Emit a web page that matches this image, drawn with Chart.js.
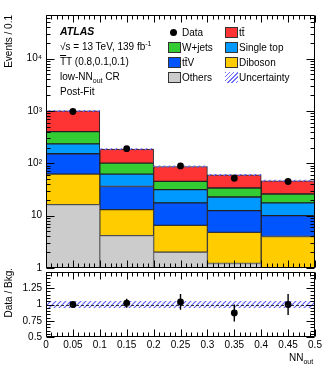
<!DOCTYPE html>
<html>
<head>
<meta charset="utf-8">
<script src="https://cdn.jsdelivr.net/npm/chart.js@4.4.0/dist/chart.umd.min.js"></script>
<style>
  body { margin: 0; background: #fff; font-family: "Liberation Sans", Arial, sans-serif; }
  #wrap { position: relative; width: 332px; height: 375px; overflow: hidden; }
  #topChart { position: absolute; left: 0; top: 0; }
  #ratioChart { position: absolute; left: 0; top: 262px; }
  .t { position: absolute; font-size: 10px; line-height: 12px; height: 12px; white-space: nowrap; color: #000; }
  .t sub, .t sup { font-size: 7px; line-height: 0; }
  .ytitle { position: absolute; font-size: 10px; line-height: 12px; white-space: nowrap;
            writing-mode: vertical-rl; transform: rotate(180deg); }
  .sw { position: absolute; width: 11px; height: 9px; border: 1px solid #333; }
  .dot { position: absolute; width: 7px; height: 7px; border-radius: 50%; background: #000; }
</style>
</head>
<body>
<div id="wrap">
  <canvas id="topChart" width="332" height="278"></canvas>
  <canvas id="ratioChart" width="332" height="113"></canvas>

  <div class="ytitle" style="left:3px; top:15px;">Events / 0.1</div>
  <div class="ytitle" style="left:3px; top:268px;">Data / Bkg.</div>
  <div class="t" style="left:289px; top:352px;">NN<sub>out</sub></div>

  <div class="t" style="left:60px; top:25px; font-weight:bold; font-style:italic; font-size:10.5px;">ATLAS</div>
  <div class="t" style="left:60px; top:41px;">√s = 13 TeV, 139 fb<sup>-1</sup></div>
  <div class="t" style="left:60px; top:56px;"><span style="text-decoration:overline">T</span>T (0.8,0.1,0.1)</div>
  <div class="t" style="left:60px; top:71px;">low-NN<sub>out</sub> CR</div>
  <div class="t" style="left:60px; top:86px;">Post-Fit</div>

  <div class="dot" style="left:170px; top:29px;"></div>
  <div class="t" style="left:182px; top:27px;">Data</div>
  <div class="sw" style="left:168px; top:42px; background:#33cc33;"></div>
  <div class="t" style="left:182px; top:42px;">W+jets</div>
  <div class="sw" style="left:168px; top:57px; background:#0055ff;"></div>
  <div class="t" style="left:182px; top:57px;">tt̄V</div>
  <div class="sw" style="left:168px; top:72px; background:#cccccc;"></div>
  <div class="t" style="left:182px; top:72px;">Others</div>

  <div class="sw" style="left:225px; top:27px; background:#fe3333;"></div>
  <div class="t" style="left:239px; top:27px;">tt̄</div>
  <div class="sw" style="left:225px; top:42px; background:#0099ff;"></div>
  <div class="t" style="left:239px; top:42px;">Single top</div>
  <div class="sw" style="left:225px; top:57px; background:#ffcc00;"></div>
  <div class="t" style="left:239px; top:57px;">Diboson</div>
  <div class="sw" style="left:225px; top:72px; border:none; width:13px; height:11px;
       background:repeating-linear-gradient(135deg, #7070ff 0 1px, transparent 1px 3px);"></div>
  <div class="t" style="left:239px; top:72px;">Uncertainty</div>
</div>

<script>
// bin centres of NN_out
const binCentres = [0.05, 0.15, 0.25, 0.35, 0.45];

// post-fit yields per process
const others    = [16.2, 4.16, 2.0, 1.22, 1.0];
const diboson   = [45.8, 8.84, 4.5, 3.58, 3.0];
const ttV       = [90, 23, 11, 7.7, 6.0];
const singleTop = [83, 26, 13.8, 10.2, 7.5];
const wjets     = [169, 39, 13.7, 11, 8.4];
const ttbar     = [596, 85, 42, 26.3, 20.5];
const bkgRelUnc = [0.03, 0.03, 0.03, 0.03, 0.03];

const dataYield = [975, 190, 89, 52, 45];
const dataErr   = [31, 14, 9.4, 7.2, 6.7];

// lower panel
const ratioVals = [1.0, 1.02, 1.04, 0.87, 1.0];
const ratioErr  = [0.03, 0.07, 0.12, 0.13, 0.16];
const ratioUnc  = [0.05, 0.05, 0.05, 0.05, 0.05];

// axis ticks
const yTicks = [1, 10, 100, 1000, 10000];
const yTickLabels = ['1', '10', '10²', '10³', '10⁴'];
const xTicks = [0, 0.05, 0.1, 0.15, 0.2, 0.25, 0.3, 0.35, 0.4, 0.45, 0.5];
const xTickLabels = ['0', '0.05', '0.1', '0.15', '0.2', '0.25', '0.3', '0.35', '0.4', '0.45', '0.5'];
const ratioTicks = [0.5, 0.75, 1, 1.25];
const ratioTickLabels = ['0.5', '0.75', '1', '1.25'];

function hatch(color) {
  const n = 5;
  const c = document.createElement('canvas');
  c.width = n; c.height = n;
  const g = c.getContext('2d');
  g.strokeStyle = color;
  g.lineWidth = 1.2;
  g.beginPath();
  g.moveTo(0, n); g.lineTo(n, 0);
  g.moveTo(-1, 1); g.lineTo(1, -1);
  g.moveTo(n - 1, n + 1); g.lineTo(n + 1, n - 1);
  g.stroke();
  return g.createPattern(c, 'repeat');
}
const hatchFill = hatch('rgb(95,95,255)');

// frame + inward ticks, ROOT style
const frameTicks = {
  id: 'frameTicks',
  afterDraw(chart, args, o) {
    const { ctx, chartArea: a, scales } = chart;
    const L = Math.round(a.left) + 0.5, R = Math.round(a.right) - 0.5;
    const T = Math.round(a.top) + 0.5, B = Math.round(a.bottom) - 0.5;
    ctx.save();
    ctx.strokeStyle = '#000';
    ctx.lineWidth = 1;
    ctx.beginPath();
    ctx.rect(L, T, R - L, B - T);
    // x ticks every 0.01, major every 0.05
    for (let k = 0; k <= 50; k++) {
      const px = Math.round(scales.x.getPixelForValue(k / 100)) + 0.5;
      const len = (k % 5 === 0) ? o.xMajor : o.xMinor;
      ctx.moveTo(px, B); ctx.lineTo(px, B - len);
      ctx.moveTo(px, T); ctx.lineTo(px, T + len);
    }
    o.yMajorVals.forEach(v => {
      const py = Math.round(scales.y.getPixelForValue(v)) + 0.5;
      ctx.moveTo(L, py); ctx.lineTo(L + o.yMajor, py);
      ctx.moveTo(R, py); ctx.lineTo(R - o.yMajor, py);
    });
    o.yMinorVals.forEach(v => {
      const py = Math.round(scales.y.getPixelForValue(v)) + 0.5;
      if (py < T || py > B) return;
      ctx.moveTo(L, py); ctx.lineTo(L + o.yMinor, py);
      ctx.moveTo(R, py); ctx.lineTo(R - o.yMinor, py);
    });
    ctx.stroke();
    ctx.restore();
  }
};

// vertical error bars + optional dashed reference line
const errorBars = {
  id: 'errorBars',
  afterDatasetsDraw(chart, args, o) {
    const { ctx, scales, chartArea: a } = chart;
    ctx.save();
    if (o.refLine !== undefined) {
      const py = Math.round(scales.y.getPixelForValue(o.refLine)) + 0.5;
      ctx.setLineDash([3, 2]);
      ctx.strokeStyle = '#333';
      ctx.beginPath(); ctx.moveTo(a.left, py); ctx.lineTo(a.right, py); ctx.stroke();
      ctx.setLineDash([]);
    }
    const meta = chart.getDatasetMeta(o.index);
    const ds = chart.data.datasets[o.index];
    ctx.strokeStyle = '#000';
    ctx.lineWidth = 1.4;
    ctx.beginPath();
    meta.data.forEach((pt, i) => {
      const v = ds.data[i].y, e = o.errors[i];
      ctx.moveTo(pt.x, scales.y.getPixelForValue(v - e));
      ctx.lineTo(pt.x, scales.y.getPixelForValue(v + e));
    });
    ctx.stroke();
    ctx.restore();
  }
};

// ----- upper panel -----
const processes = [
  { label: 'Others', vals: others, color: '#cccccc', border: '#666666' },
  { label: 'Diboson', vals: diboson, color: '#ffcc00', border: '#333333' },
  { label: 'ttV', vals: ttV, color: '#0055ff', border: '#222222' },
  { label: 'Single top', vals: singleTop, color: '#0099ff', border: '#222222' },
  { label: 'W+jets', vals: wjets, color: '#33cc33', border: '#222222' },
  { label: 'ttbar', vals: ttbar, color: '#fe3333', border: '#222222' }
];

const stackTop = binCentres.map(() => 0.5);
const stackSets = processes.map(p => {
  const pts = binCentres.map((x, i) => {
    const lo = stackTop[i];
    const hi = (lo === 0.5 ? 0 : lo) + p.vals[i];
    stackTop[i] = hi;
    return { x: x, y: [lo, hi] };
  });
  return {
    type: 'bar', label: p.label, data: pts, grouped: false,
    backgroundColor: p.color, borderColor: p.border, borderWidth: 1, borderSkipped: false,
    barPercentage: 1, categoryPercentage: 1, order: 2
  };
});

const uncSet = {
  type: 'bar', label: 'Uncertainty', grouped: false,
  data: binCentres.map((x, i) => ({ x: x, y: [stackTop[i] * (1 - bkgRelUnc[i]), stackTop[i] * (1 + bkgRelUnc[i])] })),
  backgroundColor: hatchFill, borderWidth: 0, barPercentage: 1, categoryPercentage: 1, order: 1
};

const dataSet = {
  type: 'scatter', label: 'Data',
  data: binCentres.map((x, i) => ({ x: x, y: dataYield[i] })),
  pointRadius: 3.4, pointBackgroundColor: '#000', pointBorderWidth: 0, order: 0
};

const logMinor = [];
[1, 10, 100, 1000, 10000].forEach(d => { for (let m = 2; m <= 9; m++) logMinor.push(d * m); });

Chart.defaults.font.family = '"Liberation Sans", Arial, sans-serif';
Chart.defaults.font.size = 10;
Chart.defaults.color = '#000';

new Chart(document.getElementById('topChart'), {
  type: 'bar',
  data: { datasets: [...stackSets, uncSet, dataSet] },
  options: {
    responsive: false,
    animation: false,
    layout: { padding: { left: 0, right: 17, top: 15, bottom: 9 } },
    plugins: {
      legend: { display: false },
      tooltip: { enabled: false },
      frameTicks: { xMajor: 7, xMinor: 4, yMajor: 8, yMinor: 4, yMajorVals: yTicks, yMinorVals: logMinor },
      errorBars: { index: stackSets.length + 1, errors: dataErr }
    },
    scales: {
      x: { type: 'linear', min: 0, max: 0.5, offset: false, display: false },
      y: {
        type: 'logarithmic', min: 1, max: 68000,
        grid: { display: false, drawTicks: false }, border: { display: false },
        afterBuildTicks: s => { s.ticks = yTicks.map(v => ({ value: v })); },
        afterFit: s => { s.width = 46; },
        ticks: { padding: 4, autoSkip: false, callback: (v, i) => yTickLabels[i] }
      }
    }
  },
  plugins: [frameTicks, errorBars]
});

// ----- ratio panel -----
const ratioMinor = [];
for (let k = 10; k <= 30; k++) ratioMinor.push(k * 0.05);

new Chart(document.getElementById('ratioChart'), {
  type: 'bar',
  data: {
    datasets: [
      {
        type: 'bar', label: 'Uncertainty', grouped: false, xAxisID: 'xb',
        data: binCentres.map((x, i) => ({ x: x, y: [1 - ratioUnc[i], 1 + ratioUnc[i]] })),
        backgroundColor: hatchFill, borderWidth: 0, barPercentage: 1, categoryPercentage: 1, order: 1
      },
      {
        type: 'scatter', label: 'Data / Bkg.',
        data: binCentres.map((x, i) => ({ x: x, y: ratioVals[i] })),
        pointRadius: 3.4, pointBackgroundColor: '#000', pointBorderWidth: 0, order: 0
      }
    ]
  },
  options: {
    responsive: false,
    animation: false,
    layout: { padding: { left: 0, right: 17, top: 8, bottom: 18 } },
    plugins: {
      legend: { display: false },
      tooltip: { enabled: false },
      frameTicks: { xMajor: 7, xMinor: 4, yMajor: 8, yMinor: 4, yMajorVals: ratioTicks.concat([1.5]), yMinorVals: ratioMinor },
      errorBars: { index: 1, errors: ratioErr, refLine: 1 }
    },
    scales: {
      x: {
        type: 'linear', min: 0, max: 0.5, offset: false,
        grid: { display: false, drawTicks: false }, border: { display: false },
        afterBuildTicks: s => { s.ticks = xTicks.map(v => ({ value: v })); },
        afterFit: s => { s.height = 20; },
        ticks: { padding: 2, autoSkip: false, maxRotation: 0, callback: (v, i) => xTickLabels[i] }
      },
      xb: { type: 'linear', axis: 'x', position: 'bottom', min: 0, max: 0.5, offset: false, display: false },
      y: {
        type: 'linear', min: 0.5, max: 1.5,
        grid: { display: false, drawTicks: false }, border: { display: false },
        afterBuildTicks: s => { s.ticks = ratioTicks.map(v => ({ value: v })); },
        afterFit: s => { s.width = 46; },
        ticks: { padding: 4, autoSkip: false, callback: (v, i) => ratioTickLabels[i] }
      }
    }
  },
  plugins: [frameTicks, errorBars]
});
</script>
</body>
</html>
